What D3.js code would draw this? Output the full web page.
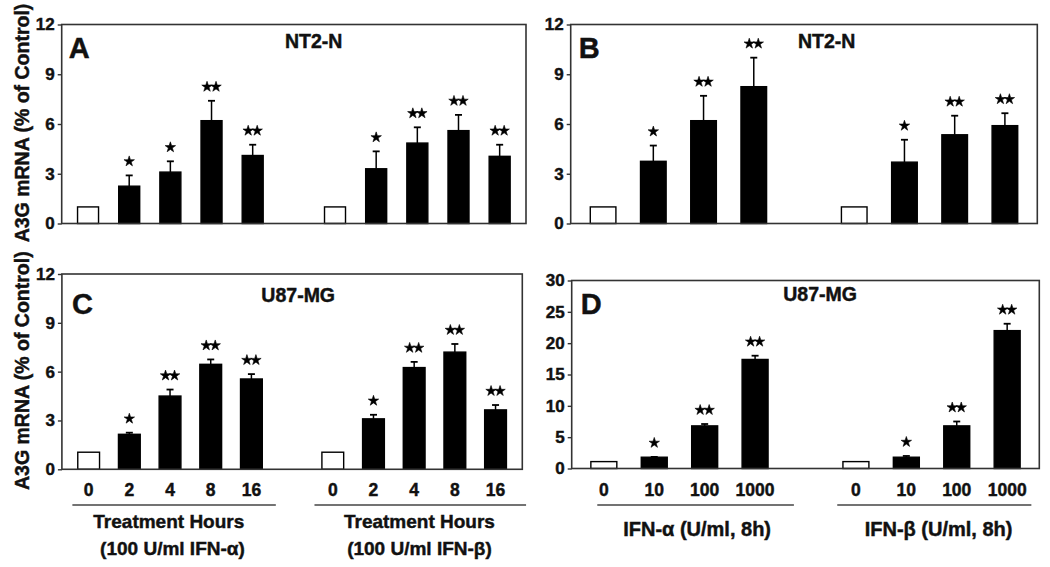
<!DOCTYPE html>
<html><head><meta charset="utf-8">
<script src="https://cdn.jsdelivr.net/npm/d3@7"></script>
<style>
body{margin:0;background:#fff;}
svg{display:block;font-family:"Liberation Sans",Arial,Helvetica,sans-serif;font-weight:bold;}
svg text{stroke:#111;stroke-width:0.45px;}
</style></head><body>
<svg id="chart" width="1050" height="567"></svg>
<script>
// ---------- data ----------
const hoursLabels = ["0", "2", "4", "8", "16"];
const doseLabels = ["0", "10", "100", "1000"];
const yTicks12 = [0, 3, 6, 9, 12];
const yTicks30 = [0, 5, 10, 15, 20, 25, 30];

// Panel A: NT2-N, time course (IFN-alpha, IFN-beta)
const aAlpha = [1.0, 2.25, 3.1, 6.2, 4.1];
const aAlphaErr = [0, 0.65, 0.65, 1.2, 0.65];
const aAlphaSig = ["", "*", "*", "**", "**"];
const aBeta = [1.0, 3.3, 4.85, 5.6, 4.05];
const aBetaErr = [0, 1.05, 0.95, 0.95, 0.7];
const aBetaSig = ["", "*", "**", "**", "**"];

// Panel B: NT2-N, dose response
const bAlpha = [1.0, 3.75, 6.2, 8.25];
const bAlphaErr = [0, 0.95, 1.5, 1.75];
const bAlphaSig = ["", "*", "**", "**"];
const bBeta = [1.0, 3.7, 5.35, 5.9];
const bBetaErr = [0, 1.35, 1.15, 0.75];
const bBetaSig = ["", "*", "**", "**"];

// Panel C: U87-MG, time course
const cAlpha = [1.05, 2.15, 4.5, 6.45, 5.55];
const cAlphaErr = [0, 0.1, 0.4, 0.3, 0.3];
const cAlphaSig = ["", "*", "**", "**", "**"];
const cBeta = [1.05, 3.1, 6.25, 7.2, 3.65];
const cBetaErr = [0, 0.25, 0.35, 0.5, 0.3];
const cBetaSig = ["", "*", "**", "**", "**"];

// Panel D: U87-MG, dose response
const dAlpha = [1.1, 1.8, 6.8, 17.4];
const dAlphaErr = [0, 0.05, 0.3, 0.6];
const dAlphaSig = ["", "*", "**", "**"];
const dBeta = [1.1, 1.8, 6.8, 22.0];
const dBetaErr = [0, 0.2, 0.7, 1.1];
const dBetaSig = ["", "*", "**", "**"];

const yTitle = "A3G mRNA (% of Control)";

// ---------- layout ----------
const svg = d3.select("#chart");

const panels = [
  {letter: "A", title: "NT2-N", titleSlot: 5.48, left: 61.7, right: 526, top: 24.5, bottom: 223.5,
   yMax: 12, ticks: yTicks12, pi: 0.49, po: 0.385, labels: hoursLabels,
   groups: [{v: aAlpha, e: aAlphaErr, s: aAlphaSig}, {v: aBeta, e: aBetaErr, s: aBetaSig}],
   letterDx: 7, letterY: 57.5, titleY: 47.5},
  {letter: "B", title: "NT2-N", titleSlot: 4.45, left: 570.7, right: 1037.3, top: 24.5, bottom: 223.5,
   yMax: 12, ticks: yTicks12, pi: 0.49, po: 0.39, labels: doseLabels,
   groups: [{v: bAlpha, e: bAlphaErr, s: bAlphaSig}, {v: bBeta, e: bBetaErr, s: bBetaSig}],
   letterDx: 8, letterY: 57.5, titleY: 47.5},
  {letter: "C", title: "U87-MG", titleSlot: 5.15, left: 61.9, right: 522.3, top: 274, bottom: 469.3,
   yMax: 12, ticks: yTicks12, pi: 0.465, po: 0.39, labels: hoursLabels,
   groups: [{v: cAlpha, e: cAlphaErr, s: cAlphaSig}, {v: cBeta, e: cBetaErr, s: cBetaSig}],
   letterDx: 10, letterY: 314, titleY: 302,
   xLabels: true,
   lines: [[-0.4, 4.6], [5.55, 10.75]],
   captions: [
     {slot: 1.97, y: 528, size: 19, text: "Treatment Hours"},
     {slot: 8.13, y: 528, size: 19, text: "Treatment Hours"},
     {slot: 2.06, y: 555, size: 19, text: "(100 U/ml IFN-\u03B1)"},
     {slot: 8.13, y: 555, size: 19, text: "(100 U/ml IFN-\u03B2)"}
   ]},
  {letter: "D", title: "U87-MG", titleSlot: 4.29, left: 571.7, right: 1039.3, top: 280.5, bottom: 468.5,
   yMax: 30, ticks: yTicks30, pi: 0.485, po: 0.38, labels: doseLabels,
   groups: [{v: dAlpha, e: dAlphaErr, s: dAlphaSig}, {v: dBeta, e: dBetaErr, s: dBetaSig}],
   letterDx: 9, letterY: 314, titleY: 301,
   xLabels: true,
   lines: [[-0.13, 3.77], [4.63, 8.48]],
   captions: [
     {slot: 1.85, y: 536, size: 20, text: "IFN-\u03B1 (U/ml, 8h)"},
     {slot: 6.64, y: 536, size: 20, text: "IFN-\u03B2 (U/ml, 8h)"}
   ]}
];

const star = d3.symbol().type(d3.symbolStar).size(34);

function drawPanel(p) {
  const g = svg.append("g");
  const keys = [...p.labels.map((l, i) => "a" + i), "gap", ...p.labels.map((l, i) => "b" + i)];
  const x = d3.scaleBand().domain(keys).range([p.left, p.right])
    .paddingInner(p.pi).paddingOuter(p.po);
  const y = d3.scaleLinear().domain([0, p.yMax]).range([p.bottom, p.top]);
  const bw = x.bandwidth(), step = x.step();
  const pos = s => x(keys[0]) + bw / 2 + s * step;

  const bars = [];
  p.groups.forEach((grp, gi) => grp.v.forEach((v, i) => bars.push({
    key: (gi ? "b" : "a") + i, label: p.labels[i], v, e: grp.e[i], sig: grp.s[i], ctrl: i === 0
  })));

  // bars
  g.selectAll("rect.bar").data(bars).join("rect").attr("class", "bar")
    .attr("x", d => x(d.key)).attr("y", d => y(d.v))
    .attr("width", bw).attr("height", d => y(0) - y(d.v))
    .attr("fill", d => d.ctrl ? "#fff" : "#000")
    .attr("stroke", "#000").attr("stroke-width", 1.4);

  // error bars (upper)
  const eb = bars.filter(d => d.e > 0);
  g.selectAll("line.err").data(eb).join("line").attr("class", "err")
    .attr("x1", d => x(d.key) + bw / 2).attr("x2", d => x(d.key) + bw / 2)
    .attr("y1", d => y(d.v)).attr("y2", d => y(d.v + d.e))
    .attr("stroke", "#000").attr("stroke-width", 1.5);
  g.selectAll("line.cap").data(eb).join("line").attr("class", "cap")
    .attr("x1", d => x(d.key) + bw / 2 - 3.5).attr("x2", d => x(d.key) + bw / 2 + 3.5)
    .attr("y1", d => y(d.v + d.e)).attr("y2", d => y(d.v + d.e))
    .attr("stroke", "#000").attr("stroke-width", 1.8);

  // significance stars
  const stars = [];
  bars.forEach(d => {
    const n = d.sig.length;
    for (let k = 0; k < n; k++) stars.push({cx: x(d.key) + bw / 2 + (k - (n - 1) / 2) * 9, cy: y(d.v + d.e) - 14});
  });
  g.selectAll("path.star").data(stars).join("path").attr("class", "star")
    .attr("d", star).attr("transform", d => `translate(${d.cx},${d.cy})`)
    .attr("fill", "#000").attr("stroke", "#000").attr("stroke-width", 0.6);

  // frame
  g.append("rect").attr("x", p.left).attr("y", p.top)
    .attr("width", p.right - p.left).attr("height", p.bottom - p.top)
    .attr("fill", "none").attr("stroke", "#333").attr("stroke-width", 1.6);

  // y axis
  const ax = g.append("g").attr("transform", `translate(${p.left},0)`)
    .call(d3.axisLeft(y).tickValues(p.ticks).tickSize(4).tickPadding(3).tickFormat(d3.format("d")));
  ax.attr("font-family", null).attr("font-size", null);
  ax.select(".domain").remove();
  ax.selectAll(".tick line").attr("stroke", "#333").attr("stroke-width", 1.4);
  ax.selectAll(".tick text").attr("font-size", 17).attr("font-weight", "bold").attr("fill", "#111");

  // panel letter & title
  g.append("text").attr("x", p.left + p.letterDx).attr("y", p.letterY)
    .attr("font-size", 29).attr("fill", "#111").text(p.letter);
  g.append("text").attr("x", pos(p.titleSlot)).attr("y", p.titleY).attr("text-anchor", "middle")
    .attr("font-size", 19.5).attr("fill", "#111").text(p.title);

  if (p.xLabels) {
    g.selectAll("text.xl").data(bars).join("text").attr("class", "xl")
      .attr("x", d => x(d.key) + bw / 2).attr("y", 495.5).attr("text-anchor", "middle")
      .attr("font-size", 17.5).attr("fill", "#111").text(d => d.label);
    g.selectAll("line.grp").data(p.lines).join("line").attr("class", "grp")
      .attr("x1", d => pos(d[0])).attr("x2", d => pos(d[1]))
      .attr("y1", 505).attr("y2", 505).attr("stroke", "#444").attr("stroke-width", 1.5);
    g.selectAll("text.cap").data(p.captions).join("text").attr("class", "cap")
      .attr("x", d => pos(d.slot)).attr("y", d => d.y).attr("text-anchor", "middle")
      .attr("font-size", d => d.size).attr("fill", "#111").text(d => d.text);
  }
}

panels.forEach(drawPanel);

// y-axis titles (left column)
[0, 2].forEach(i => {
  const p = panels[i];
  const cy = (p.top + p.bottom) / 2 - 1;
  svg.append("text").attr("transform", `translate(29,${cy}) rotate(-90)`)
    .attr("text-anchor", "middle").attr("font-size", 19.5).attr("fill", "#111").text(yTitle);
});
</script>
</body></html>
